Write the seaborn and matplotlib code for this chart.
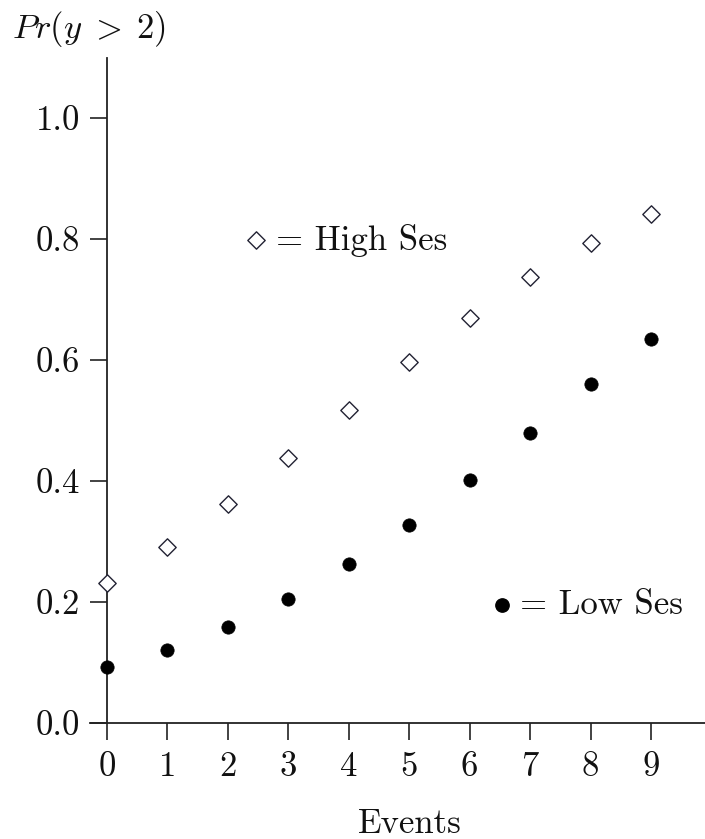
import matplotlib
matplotlib.use("Agg")
import matplotlib.pyplot as plt
import seaborn as sns
import pandas as pd

# Predicted probability Pr(y > 2) by number of events, for two SES groups
events = [0, 1, 2, 3, 4, 5, 6, 7, 8, 9]
high_ses = [0.231, 0.291, 0.362, 0.438, 0.517, 0.597, 0.669, 0.737, 0.793, 0.841]
low_ses = [0.093, 0.121, 0.159, 0.205, 0.263, 0.327, 0.402, 0.479, 0.560, 0.635]
y_ticks = [0.0, 0.2, 0.4, 0.6, 0.8, 1.0]
x_ticks = events

sns.set_theme(style="white")
plt.rcParams["font.family"] = ["cmr10", "DejaVu Sans"]
plt.rcParams["mathtext.fontset"] = "cm"
plt.rcParams["axes.unicode_minus"] = False

df = pd.DataFrame({"Events": events + events,
                   "p": high_ses + low_ses,
                   "group": ["High"] * len(events) + ["Low"] * len(events)})

fig = plt.figure(figsize=(7.05, 8.39), dpi=100)
W, H = 705, 839
ax = fig.add_axes([90 / W, 1 - 723 / H, 1 - 90 / W, (723 - 58) / H])

DIAMOND_S = 78
DOT_S = 92

sns.scatterplot(data=df[df.group == "High"], x="Events", y="p", ax=ax,
                marker="D", s=DIAMOND_S, facecolor="white", edgecolor="#222233",
                linewidth=1.0, zorder=3)
sns.scatterplot(data=df[df.group == "Low"], x="Events", y="p", ax=ax,
                marker="o", s=DOT_S, color="black", edgecolor="black",
                linewidth=0.5, zorder=3)

ax.set_xlim(-0.281, 9.894)
ax.set_ylim(0, 1.099)

for side in ["top", "right"]:
    ax.spines[side].set_visible(False)
ax.spines["left"].set_position(("data", 0))
for side in ["left", "bottom"]:
    ax.spines[side].set_color("#222222")
    ax.spines[side].set_linewidth(1.3)

ax.set_xticks(x_ticks)
ax.set_xticklabels([str(v) for v in x_ticks])
ax.set_yticks(y_ticks)
ax.set_yticklabels([f"{v:.1f}" for v in y_ticks])
ax.tick_params(axis="both", direction="out", length=12.5, width=1.2,
               color="#222222", labelsize=25, labelcolor="#111111")
ax.tick_params(axis="x", pad=8, bottom=True)
ax.tick_params(axis="y", pad=7, left=True)
ax.set_xlabel("")
ax.set_ylabel("")

# In-plot keys
ax.scatter([2.47], [0.798], marker="D", s=DIAMOND_S, facecolor="white",
           edgecolor="#222233", linewidth=1.0, zorder=3)
ax.text(2.80, 0.798, "= High Ses", fontsize=25, va="center", ha="left",
        color="#111111")
ax.scatter([6.54], [0.195], marker="o", s=DOT_S, color="black", zorder=3)
ax.text(6.84, 0.195, "= Low Ses", fontsize=25, va="center", ha="left",
        color="#111111")

fig.text(12 / W, 1 - 38 / H, r"$Pr(y\;>\;2)$", fontsize=25, ha="left",
         va="baseline", color="#111111")
fig.text(410 / W, 1 - 833 / H, "Events", fontsize=25, ha="center",
         va="baseline", color="#111111")

fig.savefig("out.png", dpi=100, facecolor="white")
